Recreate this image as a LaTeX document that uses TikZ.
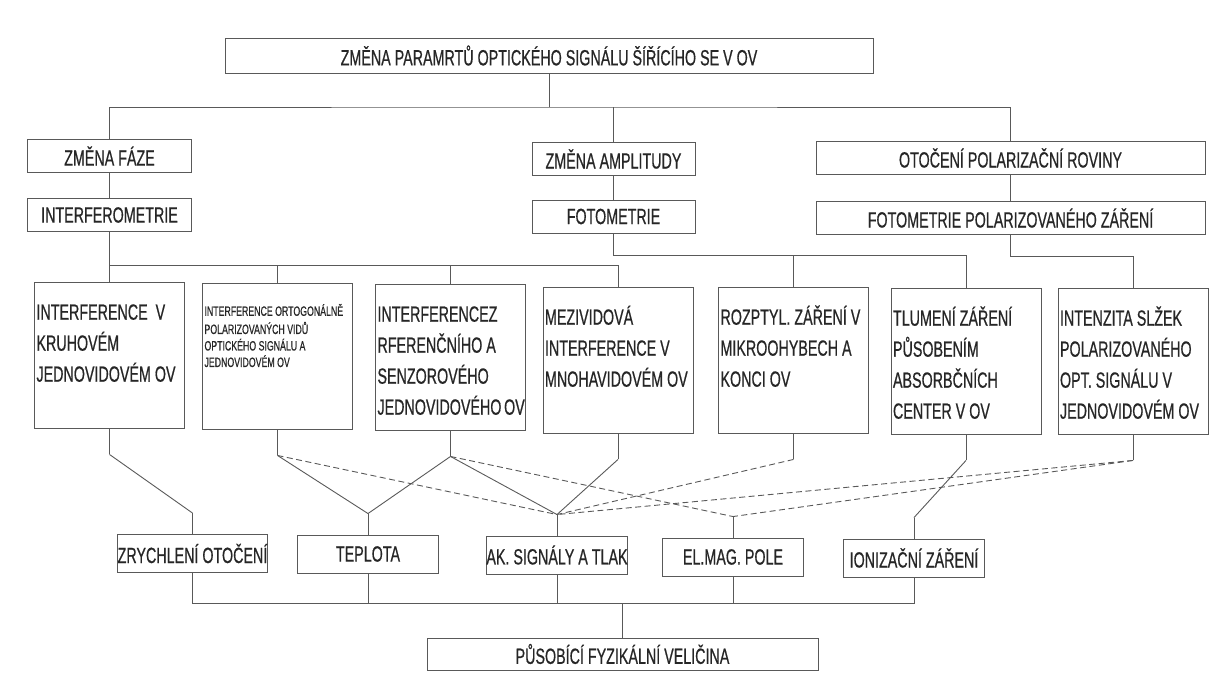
\documentclass[tikz,border=0pt]{standalone}
\usepackage{fontspec}
\setmainfont{Liberation Sans}[FakeStretch=0.65,FakeBold=0.6]

\tikzstyle{box}=[draw=black!65,line width=.9pt,inner sep=0pt,text=black!85,font=\fontsize{22}{24}\selectfont]
\tikzstyle{bigbox}=[box,minimum width=150pt,minimum height=146pt,font=\fontsize{22}{31}\selectfont]
\tikzstyle{link}=[draw=black!65,line width=.9pt]
\tikzstyle{dlink}=[link,dash pattern=on 6pt off 3.5pt]

% text of the tall boxes, hung from the top edge
\newcommand{\boxtext}[2][16pt]{\parbox[c][146pt][t]{146pt}{\raggedright\vspace*{#1}\strut#2}}

\begin{document}
\begin{tikzpicture}[x=1pt,y=-1pt]
\useasboundingbox (0,0) rectangle (1210,687);

\node[box,minimum width=648pt,minimum height=35pt] (top) at (549,55.5) {ZMĚNA PARAMRTŮ OPTICKÉHO SIGNÁLU ŠÍŘÍCÍHO SE V OV};

% kind of change and method
\foreach \name/\pos/\w/\txt in {zf/{(109.5,156)}/164/{ZMĚNA FÁZE}, za/{(613.5,159)}/163/{ZMĚNA AMPLITUDY}, ot/{(1010.5,158)}/389/{OTOČENÍ POLARIZAČNÍ ROVINY}, int/{(109.5,215)}/164/{INTERFEROMETRIE}, fot/{(613.5,216.5)}/163/{FOTOMETRIE}, fpol/{(1010.5,218)}/389/{FOTOMETRIE POLARIZOVANÉHO ZÁŘENÍ}}
\node[box,minimum width=\w pt,minimum height=33pt] (\name) at \pos {\txt};

% sensor principles
\foreach \name/\pos/\txt in {b1/{(109.5,355)}/{INTERFERENCE\ \ V\\KRUHOVÉM\\JEDNOVIDOVÉM~OV}, b3/{(450.5,357)}/{INTERFERENCEZ\\RFERENČNÍHO~A\\SENZOROVÉHO\\JEDNOVIDOVÉHO~OV}, b4/{(618,360)}/{MEZIVIDOVÁ\\INTERFERENCE~V\\MNOHAVIDOVÉM~OV}, b5/{(793.5,360)}/{ROZPTYL. ZÁŘENÍ~V\\MIKROOHYBECH~A\\KONCI OV}, b6/{(966,361)}/{TLUMENÍ ZÁŘENÍ\\PŮSOBENÍM\\ABSORBČNÍCH\\CENTER V OV}, b7/{(1133,361)}/{INTENZITA SLŽEK\\POLARIZOVANÉHO\\OPT. SIGNÁLU~V\\JEDNOVIDOVÉM~OV}}
\node[bigbox] (\name) at \pos {\boxtext{\txt}};
\node[bigbox,font=\fontsize{13.5}{16.5}\selectfont] (b2) at (277.5,356) {\boxtext[21pt]{INTERFERENCE~ORTOGONÁLNĚ\\POLARIZOVANÝCH VIDŮ\\OPTICKÉHO SIGNÁLU A\\JEDNOVIDOVÉM OV}};

% measured quantities
\foreach \name/\pos/\txt in {zr/{(192.5,553.5)}/{ZRYCHLENÍ OTOČENÍ}, tep/{(368,554)}/{TEPLOTA}, ak/{(557,555)}/{AK. SIGNÁLY A TLAK}, em/{(733,557)}/{EL.MAG. POLE}, ion/{(914,558)}/{IONIZAČNÍ ZÁŘENÍ}}
\node[box,minimum width=141pt,minimum height=38pt] (\name) at \pos {\txt};
\node[box,minimum width=391pt,minimum height=32pt] (pus) at (622.5,654) {PŮSOBÍCÍ FYZIKÁLNÍ VELIČINA};

% tree at the top
\coordinate (bus1) at (549,107);
\coordinate (ibus) at (0,265);
\coordinate (fbus) at (0,255);
\coordinate (pbus) at (0,256);
\coordinate (bbus) at (0,603);
\draw[link] (top.south) -- (bus1);
\draw[link] (zf.north) |- (bus1) -| (ot.north);
\draw[link] (za.north) -- (za.north |- bus1);
\foreach \a/\b in {zf/int,za/fot,ot/fpol}
\draw[link] (\a) -- (\b);
\draw[link] (int.south) -- (b1.north);
\draw[link] (b1.north |- ibus) -| (b4.north);
\foreach \i in {2,3}
\draw[link] (b\i.north) -- (b\i.north |- ibus);
\draw[link] (fot.south) -- (fot.south |- fbus) -| (b6.north);
\draw[link] (b5.north) -- (b5.north |- fbus);
\draw[link] (fpol.south) -- (fpol.south |- pbus) -| (b7.north);

% principle -> quantity
\foreach \i in {1,...,7}
\coordinate (s\i) at ([yshift=-26pt]b\i.south);
\foreach \n in {zr,tep,ak,em,ion}
\coordinate (j\n) at ([yshift=21pt]\n.north);
\foreach \i in {1,...,7}
\draw[link] (b\i.south) -- (s\i);
\foreach \n in {zr,tep,ak,em,ion}
\draw[link] (j\n) -- (\n.north);
\foreach \src/\dest in {1/zr,2/tep,3/tep,3/ak,4/ak,6/ion}
\draw[link] (s\src) -- (j\dest);
\foreach \src/\dest in {2/ak,3/em,5/ak,7/ak,7/em}
\draw[dlink] (s\src) -- (j\dest);

% bottom collector
\draw[link] (zr.south) -- (zr.south |- bbus) -| (ion.south);
\foreach \n in {tep,ak,em}
\draw[link] (\n.south) -- (\n.south |- bbus);
\draw[link] (pus.north) -- (pus.north |- bbus);
\end{tikzpicture}
\end{document}
